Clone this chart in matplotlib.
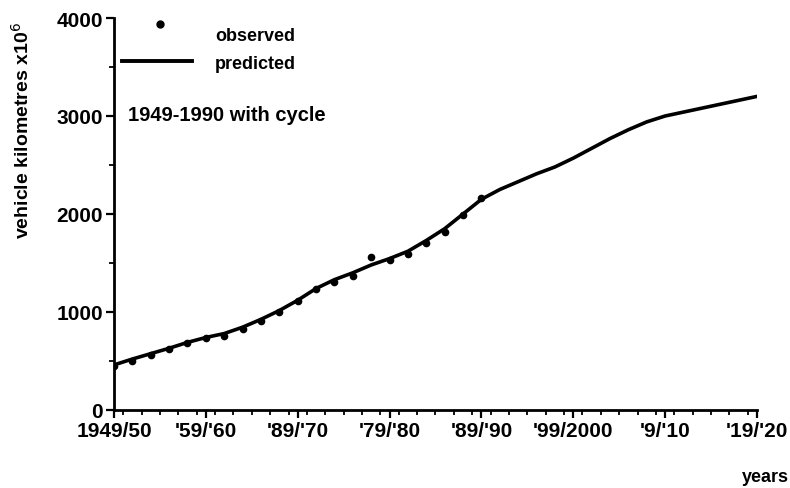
import matplotlib
matplotlib.use("Agg")
import matplotlib.pyplot as plt
from matplotlib.ticker import MultipleLocator

# observed data (every 2 years, 1949-1989)
obs_years = [1949, 1951, 1953, 1955, 1957, 1959, 1961, 1963, 1965, 1967, 1969,
             1971, 1973, 1975, 1977, 1979, 1981, 1983, 1985, 1987, 1989]
obs_values = [450, 505, 565, 620, 680, 730, 760, 830, 910, 1000, 1110,
              1230, 1310, 1370, 1560, 1530, 1590, 1700, 1820, 1990, 2160]

# predicted line
pred_years = [1949, 1951, 1953, 1955, 1957, 1959, 1961, 1963, 1965, 1967, 1969,
              1971, 1973, 1975, 1977, 1979, 1981, 1983, 1985, 1987, 1989,
              1991, 1993, 1995, 1997, 1999, 2001, 2003, 2005, 2007, 2009,
              2011, 2013, 2015, 2017, 2019]
pred_values = [460, 520, 575, 630, 690, 740, 780, 845, 925, 1015, 1120,
               1240, 1330, 1400, 1480, 1545, 1620, 1730, 1850, 2000, 2150,
               2250, 2330, 2410, 2480, 2570, 2670, 2770, 2860, 2940, 3000,
               3040, 3080, 3120, 3160, 3200]

xtick_pos = [1949, 1959, 1969, 1979, 1989, 1999, 2009, 2019]
xtick_labels = ["1949/50", "'59/'60", "'89/'70", "'79/'80", "'89/'90",
                "'99/2000", "'9/'10", "'19/'20"]
ytick_pos = [0, 1000, 2000, 3000, 4000]
ytick_labels = ["0", "1000", "2000", "3000", "4000"]

plt.rcParams['font.family'] = ['Liberation Sans', 'DejaVu Sans']

fig = plt.figure(figsize=(7.9, 4.89), dpi=100)
ax = fig.add_axes([114/790, 78/489, 643/790, 392/489])

ax.plot(pred_years, pred_values, color='black', lw=2.6, solid_capstyle='round')
ax.plot(obs_years, obs_values, 'o', color='black', ms=4.5)

ax.set_xlim(1949, 2019)
ax.set_ylim(0, 4000)
for s in ['top', 'right']:
    ax.spines[s].set_visible(False)
for s in ['left', 'bottom']:
    ax.spines[s].set_linewidth(2.0)

ax.set_xticks(xtick_pos)
ax.set_xticklabels(xtick_labels, fontsize=15, fontweight='bold')
ax.xaxis.set_minor_locator(MultipleLocator(2))
ax.set_yticks(ytick_pos)
ax.set_yticklabels(ytick_labels, fontsize=15, fontweight='bold')
ax.yaxis.set_minor_locator(MultipleLocator(500))
ax.tick_params(axis='both', which='major', length=6, width=1.6, direction='out', pad=2)
ax.tick_params(axis='both', which='minor', length=3.5, width=1.3, direction='out')

# legend drawn manually
ax.plot([1954.0], [3935], 'o', color='black', ms=5, clip_on=False)
ax.plot([1949.9, 1957.5], [3565, 3565], color='black', lw=2.8, clip_on=False)
ax.text(1960.0, 3820, "observed", fontsize=13, fontweight='bold', va='center', ha='left')
ax.text(1960.0, 3535, "predicted", fontsize=13, fontweight='bold', va='center', ha='left')
ax.text(1950.5, 3020, "1949-1990 with cycle", fontsize=14.5, fontweight='bold',
        va='center', ha='left')

fig.text(22/790, 1 - 130/489, "vehicle kilometres x10$^6$", rotation=90,
         fontsize=14, fontweight='bold', ha='center', va='center')
fig.text(765/790, 1 - 478/489, "years", fontsize=13, fontweight='bold',
         ha='center', va='center')

fig.savefig("out.png", dpi=100)
